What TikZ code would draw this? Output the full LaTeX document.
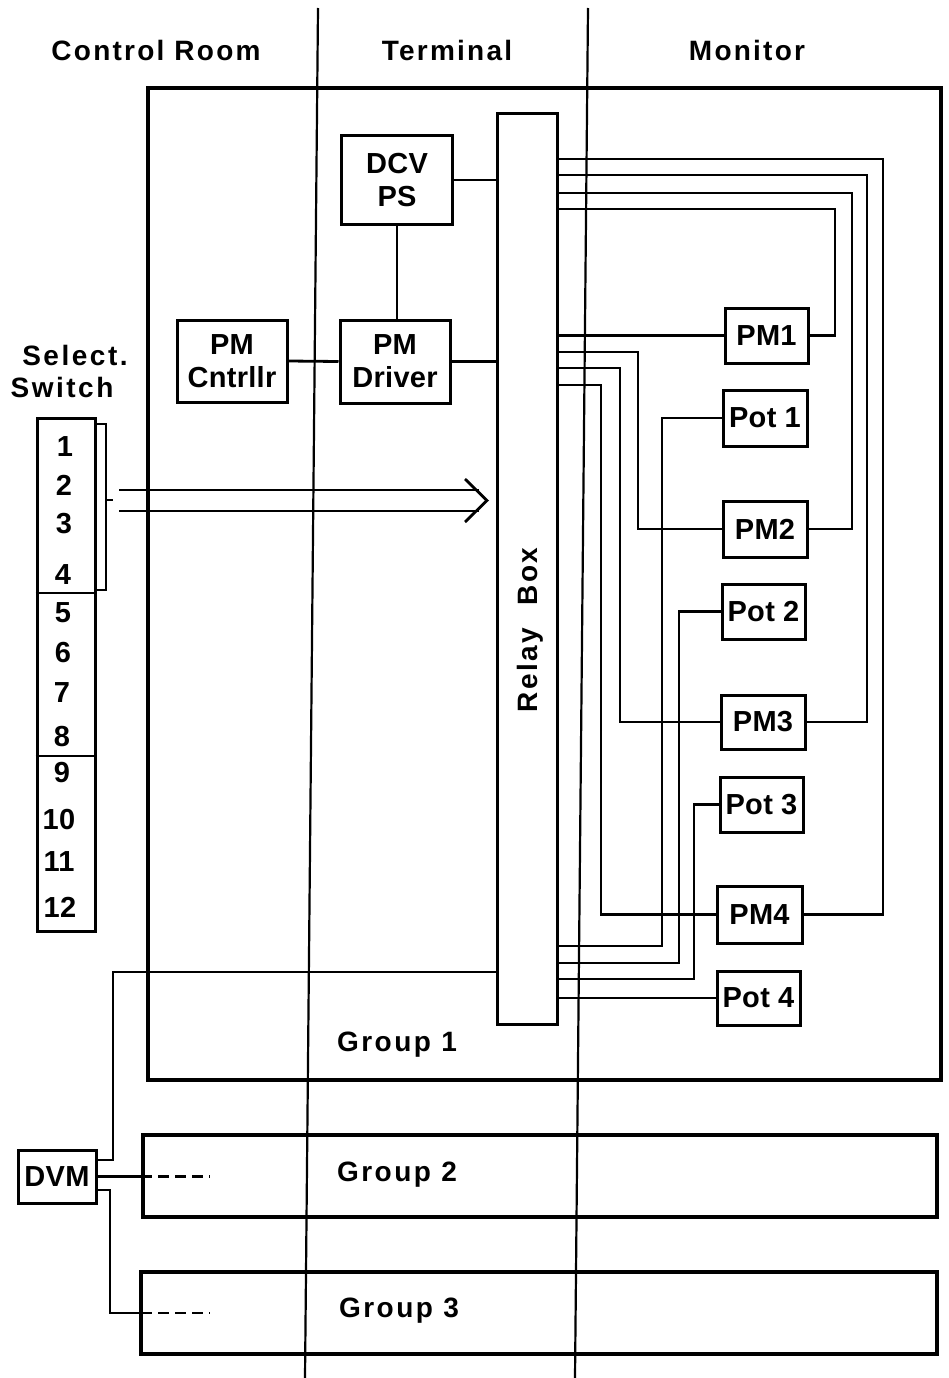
\documentclass[tikz,border=0pt]{standalone}
\usepackage{fontspec}
\setmainfont{Liberation Sans}
\usetikzlibrary{calc}
\newcommand\bxfont{\fontsize{29}{33}\selectfont\bfseries\addfontfeature{LetterSpace=1}}
\newcommand\hdfont{\fontsize{28}{33}\selectfont\bfseries\addfontfeature{LetterSpace=8}}
\newcommand\lbfont{\fontsize{28}{33}\selectfont\bfseries\addfontfeature{LetterSpace=9}}
\begin{document}
\begin{tikzpicture}[x=1pt,y=-1pt,
  box/.style={draw, line width=3pt, inner sep=0pt, font=\bxfont, align=center},
  wire/.style={line width=2.8pt},
  grp/.style={draw, line width=4.6pt},
  divider/.style={line width=2.2pt},
  num/.style={font=\bxfont, inner sep=0pt},
  hdr/.style={font=\hdfont, inner sep=0pt},
  lbl/.style={font=\lbfont, inner sep=0pt}]
\useasboundingbox (0,0) rectangle (949,1378);
\fill[white] (0,0) rectangle (949,1378);

% column headers
\node[hdr] (hCR) at (156,50) {Control Room};
\node[hdr] (hT) at (447,50) {Terminal};
\node[hdr] (hM) at (747,50) {Monitor};

% group boxes
\draw[grp] (148,88) rectangle (941,1080);
\draw[grp] (143,1135) rectangle (937,1217);
\draw[grp] (141,1272) rectangle (937,1354);
\node[lbl] (g1) at (397,1045) {Group 1};
\node[lbl] (g2) at (397,1175) {Group 2};
\node[lbl] (g3) at (399,1311) {Group 3};

% dividers
\draw[divider] (318,8) -- (305,1378);
\draw[divider] (588,8) -- (575,1378);

% terminal blocks
\node[box, minimum width=111, minimum height=89] (dcv) at (397,180) {DCV\\PS};
\node[box, minimum width=110, minimum height=83] (drv) at (395,361.5) {PM\\Driver};
\node[box, minimum width=110, minimum height=82] (ctl) at (232,361) {PM\\Cntrllr};
\node[box, minimum width=60, minimum height=910] (relay) at (527,569) {};
\node[lbl, rotate=90] (rl) at (530,630) {Relay\hspace{22pt}Box};

% monitor blocks
\node[box, minimum width=83, minimum height=55] (pm1) at (766.5,335.5) {PM1};
\node[box, minimum width=84, minimum height=56] (pot1) at (765,418) {Pot 1};
\node[box, minimum width=84, minimum height=56] (pm2) at (765,529) {PM2};
\node[box, minimum width=83, minimum height=55] (pot2) at (763.5,611.5) {Pot 2};
\node[box, minimum width=84, minimum height=54] (pm3) at (763,722) {PM3};
\node[box, minimum width=83, minimum height=55] (pot3) at (761.5,804.5) {Pot 3};
\node[box, minimum width=85, minimum height=57] (pm4) at (759.5,914.5) {PM4};
\node[box, minimum width=83, minimum height=54] (pot4) at (758.5,998) {Pot 4};

% terminal wiring
\draw[wire] (dcv.south) -- (dcv.south |- drv.north);
\draw[wire] (dcv.east) -- (relay.west |- dcv.east);
\draw[wire] (drv.east) -- (relay.west |- drv.east);
\draw[wire] (ctl.east) -- (drv.west);

% monitor wiring, PM right sides
\draw[wire] (relay.east |- 0,159) -- (883,159) |- (pm4.east);
\draw[wire] (relay.east |- 0,175) -- (867,175) |- (pm3.east);
\draw[wire] (relay.east |- 0,193) -- (852,193) |- (pm2.east);
\draw[wire] (relay.east |- 0,209) -- (835,209) |- (pm1.east);
% PM left sides
\draw[wire] (relay.east |- pm1.west) -- (pm1.west);
\draw[wire] (relay.east |- 0,352) -- (638,352) |- (pm2.west);
\draw[wire] (relay.east |- 0,368) -- (620,368) |- (pm3.west);
\draw[wire] (relay.east |- 0,385) -- (601,385) |- (pm4.west);
% pots
\draw[wire] (pot1.west) -| (662,946) -- (relay.east |- 0,946);
\draw[wire] (pot2.west) -| (679,963) -- (relay.east |- 0,963);
\draw[wire] (pot3.west) -| (694,979) -- (relay.east |- 0,979);
\draw[wire] (pot4.west) -- (relay.east |- pot4.west);

% select switch
\node[lbl] (sel) at (75,355) {Select.};
\node[lbl] (swl) at (62,387) {Switch};
\node[draw, line width=3pt, minimum width=58, minimum height=513, inner sep=0pt] (sw) at (66,674.5) {};
\draw[wire] (sw.west |- 0,593) -- (sw.east |- 0,593);
\draw[wire] (sw.west |- 0,756) -- (sw.east |- 0,756);
\node[num] (n1) at (65,447) {1};
\node[num] (n2) at (64,485) {2};
\node[num] (n3) at (64,524) {3};
\node[num] (n4) at (63,575) {4};
\node[num] (n5) at (63,613) {5};
\node[num] (n6) at (63,653) {6};
\node[num] (n7) at (62,693) {7};
\node[num] (n8) at (62,737) {8};
\node[num] (n9) at (62,773) {9};
\node[num] (n10) at (59,820) {10};
\node[num] (n11) at (59,862) {11};
\node[num] (n12) at (60,907) {12};

% bracket and double arrow
\draw[wire] (sw.east |- 0,424) -- (106,424) -- (106,590) -- (sw.east |- 0,590);
\coordinate (bt) at (113,500);
\draw[wire] (106,500) -- (bt);
\coordinate (aT) at (487,500.5);
\draw[wire] (119,490) -- (479,490);
\draw[wire] (119,511) -- (479,511);
\draw[wire, line join=miter] (465,479) -- (aT) -- (465,522);

% DVM
\node[box, minimum width=78, minimum height=53] (dvm) at (57,1176.5) {DVM};
\draw[wire] (dvm.east |- 0,1160) -- (113,1160) |- (relay.west |- 0,972);
\coordinate (d2) at (152,1176.5);
\draw[wire] (dvm.east) -- (d2);
\draw[wire, dash pattern=on 11pt off 6pt] (158,1176.5) -- (210,1176.5);
\coordinate (d3) at (152,1313);
\draw[wire] (dvm.east |- 0,1190) -- (110,1190) |- (d3);
\draw[wire, dash pattern=on 11pt off 6pt] (158,1313) -- (210,1313);
\end{tikzpicture}
\end{document}
